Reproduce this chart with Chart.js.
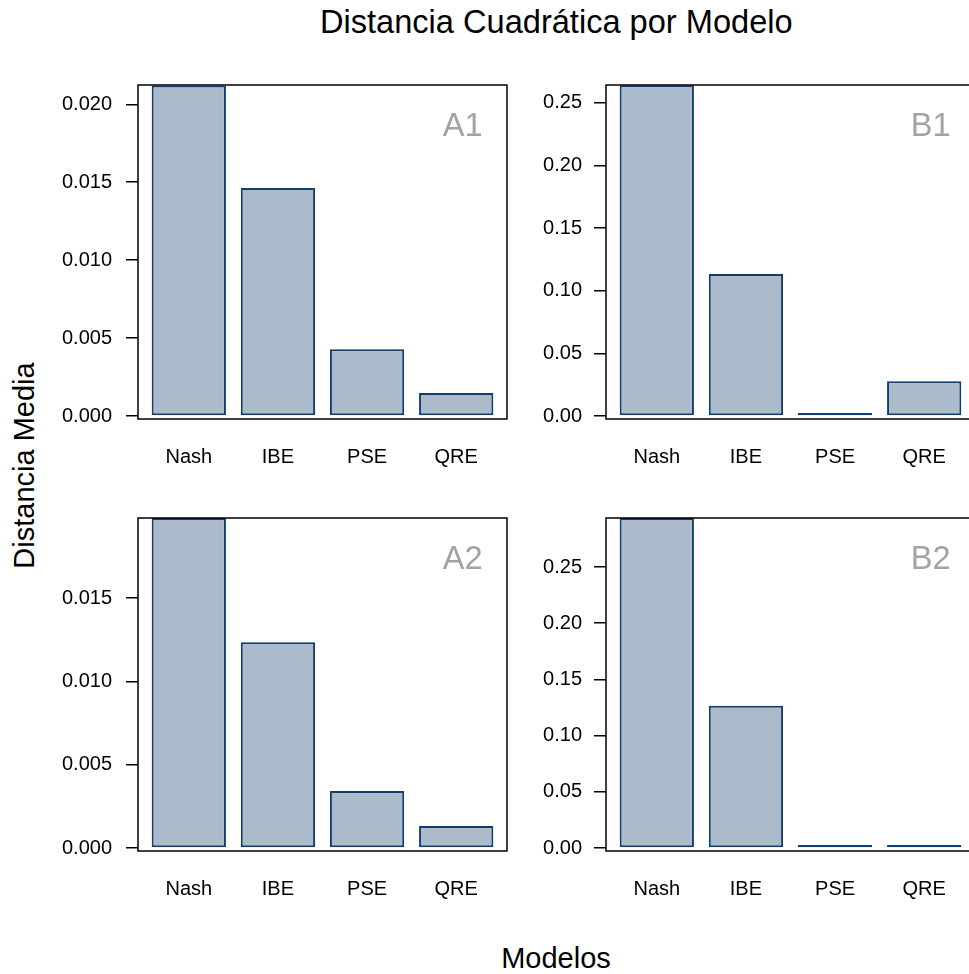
<!DOCTYPE html>
<html><head><meta charset="utf-8">
<script src="https://cdn.jsdelivr.net/npm/chart.js@4.4.1/dist/chart.umd.min.js"></script>
<style>
html,body{margin:0;padding:0;width:969px;height:974px;overflow:hidden;background:#fff;}
body{position:relative;font-family:"Liberation Sans",Arial,Helvetica,sans-serif;}
canvas{position:absolute;}
.t{position:absolute;white-space:nowrap;line-height:1;color:#000;text-align:center;}
</style></head><body>
<div class="t" style="font-size:32.6px;left:256.3px;width:600px;top:6.3px;">Distancia Cuadrática por Modelo</div>
<div class="t" style="font-size:29px;left:-125.7px;width:300px;height:29px;top:451.3px;transform:rotate(-90deg);">Distancia Media</div>
<div class="t" style="font-size:29px;left:406px;width:300px;top:944.3px;">Modelos</div>
<script>
// ---- data ----
const categories = ["Nash", "IBE", "PSE", "QRE"];
const panelLabels = ["A1", "B1", "A2", "B2"];
const valuesA1 = [0.0212, 0.01463, 0.00428, 0.00147];
const valuesB1 = [0.264, 0.1133, 0.0006, 0.0277];
const valuesA2 = [0.0198, 0.01234, 0.00342, 0.00132];
const valuesB2 = [0.2936, 0.1266, 0.0006, 0.0024];
const ticksA1 = [0, 0.005, 0.010, 0.015, 0.020];
const ticksB1 = [0, 0.05, 0.10, 0.15, 0.20, 0.25];
const ticksA2 = [0, 0.005, 0.010, 0.015];
const ticksB2 = [0, 0.05, 0.10, 0.15, 0.20, 0.25];
const decimalsA = 3, decimalsB = 2;
const yLimA1 = [-0.000192, 0.02124];
const yLimB1 = [-0.00239, 0.2641];
const yLimA2 = [-0.00018, 0.0198];
const yLimB2 = [-0.00267, 0.2936];
const xLim = [-0.57, 3.57];

// ---- layout / style ----
Chart.defaults.font.family = '"Liberation Sans", Arial, Helvetica, sans-serif';
const Y_W = 108, PAD_T = 30, PAD_R = 13, X_H = 76;
const FILL = '#acbbcc', EDGE = '#143d6c';
const boxes = [
  {l: 138, r: 507, t: 85, b: 419},
  {l: 606, r: 975, t: 85, b: 419},
  {l: 138, r: 507, t: 518, b: 851},
  {l: 606, r: 975, t: 518, b: 851}
];

const framePlugin = {
  id: 'frame',
  afterDatasetsDraw(chart, args, opts) {
    const {ctx, chartArea: a} = chart;
    ctx.save();
    ctx.strokeStyle = '#000';
    ctx.lineWidth = 1.5;
    ctx.strokeRect(a.left, a.top, a.right - a.left, a.bottom - a.top);
    ctx.font = '32.6px "Liberation Sans", Arial, sans-serif';
    ctx.fillStyle = '#a3a3a3';
    ctx.textAlign = 'left';
    ctx.textBaseline = 'alphabetic';
    ctx.fillText(opts.label, a.right - 64.3, a.top + 51);
    ctx.restore();
  }
};

function makePanel(box, label, values, ticks, decimals, ylim, tickPad) {
  const cv = document.createElement('canvas');
  const W = box.r - box.l + Y_W + PAD_R, H = box.b - box.t + PAD_T + X_H;
  cv.width = W; cv.height = H;
  cv.style.width = W + 'px'; cv.style.height = H + 'px';
  cv.style.left = (box.l - Y_W) + 'px'; cv.style.top = (box.t - PAD_T) + 'px';
  document.body.appendChild(cv);
  new Chart(cv, {
    type: 'bar',
    data: {
      datasets: [{
        data: values.map((v, i) => ({x: i, y: v})),
        backgroundColor: FILL, borderColor: EDGE, borderWidth: 2,
        borderSkipped: false, categoryPercentage: 1, barPercentage: 1 / 1.2,
        clip: 0, minBarLength: 3
      }]
    },
    options: {
      responsive: false, animation: false, devicePixelRatio: 1,
      layout: {padding: {left: 0, top: PAD_T, right: PAD_R, bottom: 0}},
      plugins: {legend: {display: false}, tooltip: {enabled: false}, frame: {label: label}},
      scales: {
        x: {
          type: 'linear', offset: false, min: xLim[0], max: xLim[1],
          grid: {display: false, drawTicks: false}, border: {display: false},
          afterBuildTicks: s => { s.ticks = categories.map((c, i) => ({value: i})); },
          afterFit: s => { s.height = X_H; s.paddingLeft = 0; s.paddingRight = 0; },
          ticks: {callback: (v, i) => categories[i], font: {size: 20}, color: '#000',
                  padding: 26, maxRotation: 0, autoSkip: false}
        },
        y: {
          type: 'linear', min: ylim[0], max: ylim[1],
          grid: {drawOnChartArea: false, drawTicks: true, tickLength: 12, color: '#000', lineWidth: 1.5},
          border: {display: false},
          afterBuildTicks: s => { s.ticks = ticks.map(v => ({value: v})); },
          afterFit: s => { s.width = Y_W; s.paddingTop = 0; s.paddingBottom = 0; },
          ticks: {callback: v => Number(v).toFixed(decimals), font: {size: 20}, color: '#000',
                  padding: tickPad, autoSkip: false}
        }
      }
    },
    plugins: [framePlugin]
  });
}

makePanel(boxes[0], panelLabels[0], valuesA1, ticksA1, decimalsA, yLimA1, 14);
makePanel(boxes[1], panelLabels[1], valuesB1, ticksB1, decimalsB, yLimB1, 12);
makePanel(boxes[2], panelLabels[2], valuesA2, ticksA2, decimalsA, yLimA2, 14);
makePanel(boxes[3], panelLabels[3], valuesB2, ticksB2, decimalsB, yLimB2, 12);
</script>
</body></html>
